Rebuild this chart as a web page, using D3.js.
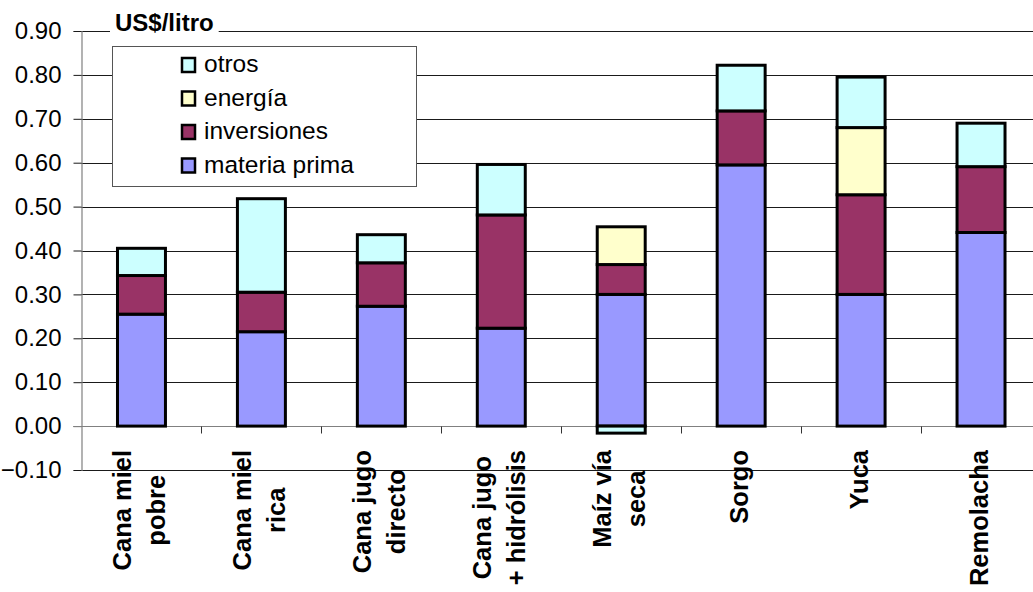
<!DOCTYPE html>
<html>
<head>
<meta charset="utf-8">
<script src="https://cdn.jsdelivr.net/npm/d3@7"></script>
<style>
  html, body { margin: 0; padding: 0; background: #fff; }
  svg { display: block; font-family: "Liberation Sans", Arial, sans-serif; }
</style>
</head>
<body>
<svg id="chart" width="1033" height="592"></svg>
<script>
// Production cost of ethanol by feedstock, US$/litro
const categories = [
  ["Cana miel", "pobre"],
  ["Cana miel", "rica"],
  ["Cana jugo", "directo"],
  ["Cana jugo", "+ hidrólisis"],
  ["Maíz vía", "seca"],
  ["Sorgo"],
  ["Yuca"],
  ["Remolacha"]
];
const materiaPrima = [0.255, 0.215, 0.273, 0.223, 0.300, 0.595, 0.300, 0.441];
const inversiones  = [0.088, 0.090, 0.099, 0.258, 0.068, 0.123, 0.227, 0.150];
const energia      = [0.000, 0.000, 0.000, 0.000, 0.086, 0.000, 0.153, 0.000];
const otros        = [0.062, 0.213, 0.064, 0.115, -0.016, 0.104, 0.115, 0.099];
const seriesNames  = ["materia prima", "inversiones", "energía", "otros"];
const seriesColors = ["#9999FF", "#993366", "#FFFFCC", "#CCFFFF"];
const yTicks = [-0.1, 0, 0.1, 0.2, 0.3, 0.4, 0.5, 0.6, 0.7, 0.8, 0.9];

const svg = d3.select("#chart");
const plot = { left: 81.5, right: 1041, top: 31, bottom: 470 };

const rows = categories.map((c, i) => ({
  key: i,
  "materia prima": materiaPrima[i],
  "inversiones": inversiones[i],
  "energía": energia[i],
  "otros": otros[i]
}));

const x = d3.scaleBand()
  .domain(d3.range(categories.length))
  .range([plot.left, plot.right])
  .paddingInner(0.6).paddingOuter(0.3);
const step = x.step();

const y = d3.scaleLinear().domain([-0.1, 0.9]).range([plot.bottom, plot.top]);

// horizontal gridlines
svg.append("g")
  .selectAll("line")
  .data(yTicks)
  .join("line")
  .attr("x1", plot.left).attr("x2", plot.right)
  .attr("y1", d => Math.round(y(d)) + 0.5).attr("y2", d => Math.round(y(d)) + 0.5)
  .attr("stroke", "#1a1a1a").attr("stroke-width", 1);

// value axis
const yAxis = svg.append("g")
  .attr("transform", `translate(${plot.left},0)`)
  .call(d3.axisLeft(y).tickValues(yTicks).tickFormat(d3.format(".2f")).tickSize(8).tickPadding(12));
yAxis.select(".domain").attr("stroke", "#808080").attr("stroke-width", 1.2);
yAxis.selectAll(".tick line").attr("stroke", "#1a1a1a");
yAxis.selectAll(".tick text")
  .attr("font-size", 24).attr("fill", "#000")
  .attr("font-family", "Liberation Sans, Arial, sans-serif");

// category axis at zero
const zeroY = Math.round(y(0)) + 0.5;
svg.append("line")
  .attr("x1", plot.left - 8).attr("x2", plot.right)
  .attr("y1", zeroY).attr("y2", zeroY)
  .attr("stroke", "#808080").attr("stroke-width", 1.2);
svg.append("g")
  .selectAll("line")
  .data(d3.range(1, categories.length + 1))
  .join("line")
  .attr("x1", i => Math.round(plot.left + i * step) + 0.5)
  .attr("x2", i => Math.round(plot.left + i * step) + 0.5)
  .attr("y1", zeroY).attr("y2", zeroY + 7)
  .attr("stroke", "#333").attr("stroke-width", 1);

// stacked bars
const stack = d3.stack().keys(seriesNames).offset(d3.stackOffsetDiverging);
const layers = stack(rows);
svg.append("g")
  .selectAll("g")
  .data(layers)
  .join("g")
  .attr("fill", (d, i) => seriesColors[i])
  .selectAll("rect")
  .data(d => d.filter(s => s[1] !== s[0]))
  .join("rect")
  .attr("x", d => x(d.data.key))
  .attr("width", x.bandwidth())
  .attr("y", d => y(Math.max(d[0], d[1])))
  .attr("height", d => Math.abs(y(d[0]) - y(d[1])))
  .attr("stroke", "#000")
  .attr("stroke-width", 3);

// category labels, rotated and centered line by line
const labelTop = 450;
const labels = svg.append("g")
  .attr("font-size", 25.5).attr("font-weight", "bold").attr("fill", "#000");
categories.forEach((lines, i) => {
  const cx = x(i) + x.bandwidth() / 2;
  const tmp = labels.append("g");
  const texts = lines.map(t => tmp.append("text").text(t));
  const maxLen = d3.max(texts, t => t.node().getComputedTextLength());
  tmp.remove();
  const n = lines.length;
  lines.forEach((t, j) => {
    const base = cx + 7 + (j - (n - 1) / 2) * 34;
    labels.append("text")
      .attr("transform", `translate(${base},${labelTop + maxLen / 2}) rotate(-90)`)
      .attr("text-anchor", "middle")
      .text(t);
  });
});

// unit title with a white backing over the top gridline
const title = svg.append("g");
const titleText = title.append("text")
  .attr("x", 115).attr("y", 31)
  .attr("font-size", 24).attr("font-weight", "bold")
  .text("US$/litro");
const tb = titleText.node().getBBox();
title.insert("rect", "text")
  .attr("x", tb.x - 5).attr("y", tb.y)
  .attr("width", tb.width + 10).attr("height", tb.height)
  .attr("fill", "#fff");

// legend
const legend = svg.append("g");
legend.append("rect")
  .attr("x", 112.5).attr("y", 46.5).attr("width", 304).attr("height", 140)
  .attr("fill", "#fff").attr("stroke", "#555").attr("stroke-width", 1);
const legendOrder = [3, 2, 1, 0];
legendOrder.forEach((si, k) => {
  const cy = 65 + k * 33.5;
  legend.append("rect")
    .attr("x", 182).attr("y", cy - 7).attr("width", 13).attr("height", 14)
    .attr("fill", seriesColors[si]).attr("stroke", "#000").attr("stroke-width", 2.5);
  legend.append("text")
    .attr("x", 204).attr("y", cy + 7)
    .attr("font-size", 24.5).attr("fill", "#000")
    .text(seriesNames[si]);
});
</script>
</body>
</html>
